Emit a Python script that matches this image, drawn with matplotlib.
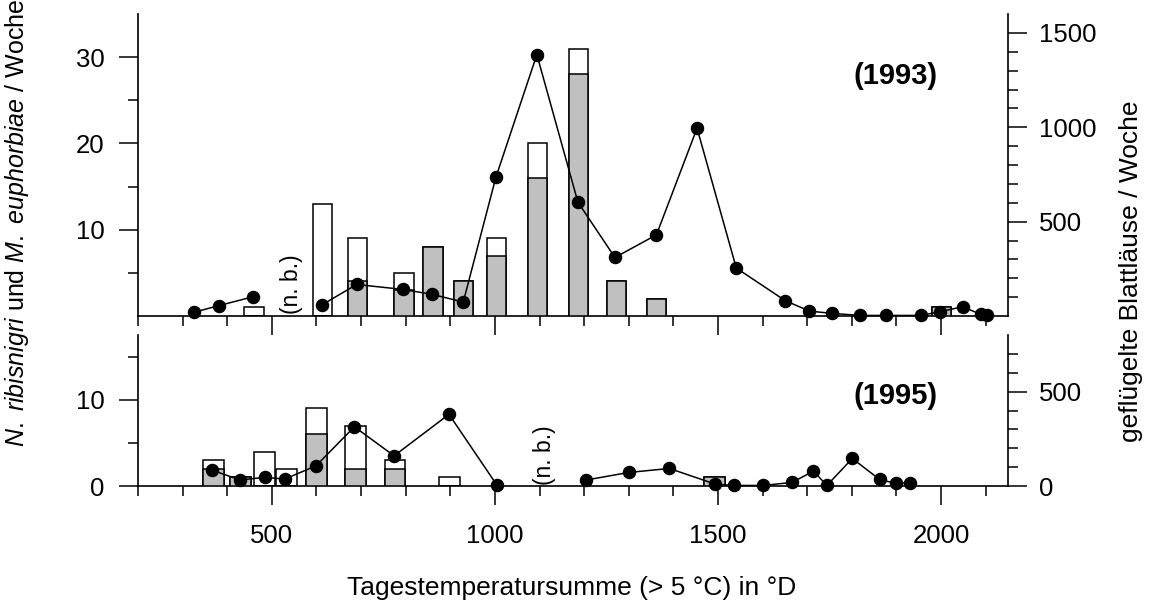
import numpy as np
import matplotlib
matplotlib.use('Agg')
import matplotlib.pyplot as plt
from matplotlib.ticker import FixedLocator, MultipleLocator

plt.rcParams['font.family'] = ['Liberation Sans', 'DejaVu Sans']
plt.rcParams['mathtext.fontset'] = 'custom'
plt.rcParams['mathtext.rm'] = 'Liberation Sans'
plt.rcParams['mathtext.it'] = 'Liberation Sans:italic'

# 1993: Salatblattläuse (Balken), weiss = gesamt, grau = Anteil
bx93 = [460, 613, 692, 796, 861, 930, 1004, 1096, 1187, 1272, 1362, 2000]
tot93 = [1, 13, 9, 5, 8, 4, 9, 20, 31, 4, 2, 1]
grey93 = [0, 0, 4, 3, 8, 4, 7, 16, 28, 4, 2, 1]
# 1993: geflügelte Blattläuse (Linie), Lücke = n. b.
lx93a = [326, 381, 458]
ly93a = [20, 55, 102]
lx93b = [613, 690, 793, 859, 929, 1002, 1094, 1186, 1269, 1362, 1453, 1541,
         1651, 1705, 1755, 1819, 1877, 1954, 1998, 2048, 2090, 2102]
ly93b = [60, 167, 141, 115, 74, 734, 1385, 603, 310, 430, 995, 254,
         81, 26, 14, 3, 3, 3, 23, 49, 8, 4]

# 1995
bx95 = [369, 430, 484, 532, 601, 687, 776, 899, 1493]
tot95 = [3, 1, 4, 2, 9, 7, 3, 1, 1]
grey95 = [2, 1, 0, 0, 6, 2, 2, 0, 1]
lx95a = [366, 429, 484, 529, 599, 685, 774, 897, 1005]
ly95a = [84, 32, 46, 37, 107, 314, 160, 380, 3]
lx95b = [1205, 1300, 1391, 1494, 1536, 1601, 1666, 1714, 1744, 1801, 1862, 1898, 1931]
ly95b = [32, 72, 93, 10, 3, 3, 19, 79, 3, 146, 35, 14, 18]

fig = plt.figure(figsize=(11.49, 6.01), dpi=100)
ax1 = fig.add_axes([0.1201, 0.4742, 0.7572, 0.5025])
ax3 = fig.add_axes([0.1201, 0.1913, 0.7572, 0.2512])
ax2 = ax1.twinx()
ax4 = ax3.twinx()

grey = '#c0c0c0'
fs = 18.5


def panel(ax, axr, bx, tot, gr, la, lb, bw):
    ax.bar(bx, tot, width=bw, color='white', edgecolor='black', linewidth=1.1, zorder=2)
    ax.bar(bx, gr, width=bw, color=grey, edgecolor='black', linewidth=1.1, zorder=3)
    for xs, ys in (la, lb):
        axr.plot(xs, ys, '-o', color='black', lw=1.1, ms=8.7, clip_on=False, zorder=4)
    ax.set_xlim(200, 2150)
    ax.set_xticks([500, 1000, 1500, 2000])
    ax.xaxis.set_minor_locator(MultipleLocator(100))
    for a in (ax, axr):
        a.spines['top'].set_visible(False)
        for s in a.spines.values():
            s.set_linewidth(1.2)
        a.tick_params(which='major', direction='out', length=14, width=1.1, labelsize=fs)
        a.tick_params(which='minor', direction='out', length=7, width=1.1)
    ax.spines['right'].set_visible(False)
    axr.spines['left'].set_visible(False)
    axr.spines['bottom'].set_visible(False)
    ax.tick_params(axis='y', pad=10)
    axr.tick_params(axis='y', pad=8)
    ax.tick_params(axis='x', pad=13)


panel(ax1, ax2, bx93, tot93, grey93, (lx93a, ly93a), (lx93b, ly93b), 43)
panel(ax3, ax4, bx95, tot95, grey95, (lx95a, ly95a), (lx95b, ly95b), 47)

ax1.set_ylim(0, 35)
ax1.set_yticks([10, 20, 30])
ax1.yaxis.set_minor_locator(FixedLocator([5, 15, 25]))
ax1.tick_params(axis='x', labelbottom=False)
ax2.set_ylim(0, 1600)
ax2.set_yticks([500, 1000, 1500])
ax2.yaxis.set_minor_locator(FixedLocator([100, 200, 300, 400, 600, 700, 800, 900,
                                          1100, 1200, 1300, 1400]))

ax3.set_ylim(0, 17.5)
ax3.set_yticks([0, 10])
ax3.yaxis.set_minor_locator(FixedLocator([5, 15]))
ax4.set_ylim(0, 800)
ax4.set_yticks([0, 500])
ax4.yaxis.set_minor_locator(FixedLocator([100, 200, 300, 400, 600, 700]))

ax1.text(544, 3.7, '(n. b.)', rotation=90, ha='center', va='center', fontsize=16.5)
ax3.text(1111, 3.6, '(n. b.)', rotation=90, ha='center', va='center', fontsize=16.5)
ax1.text(1899, 27.8, '(1993)', ha='center', va='center', fontsize=21, fontweight='bold')
ax3.text(1899, 10.4, '(1995)', ha='center', va='center', fontsize=21, fontweight='bold')

fig.text(0.4978, 1 - 588 / 601, 'Tagestemperatursumme (> 5 °C) in °D',
         ha='center', va='center', fontsize=19)
fig.text(17 / 1149, 1 - 223 / 601,
         r'$\it{N.\ ribisnigri}$ und $\it{M.\ euphorbiae}$ / Woche',
         rotation=90, ha='center', va='center', fontsize=18)
fig.text(1131 / 1149, 1 - 271 / 601, 'geflügelte Blattläuse / Woche',
         rotation=90, ha='center', va='center', fontsize=19)

fig.savefig('out.png', dpi=100)
